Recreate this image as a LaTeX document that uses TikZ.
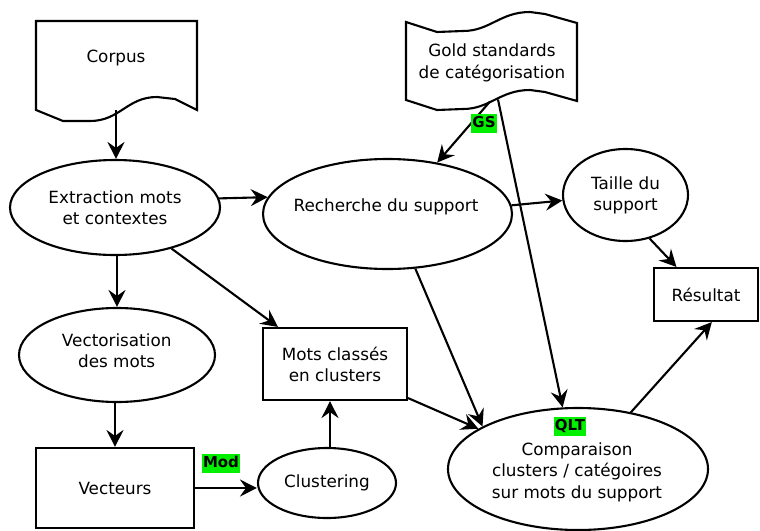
\documentclass[tikz,border=0pt]{standalone}
\usepackage{fontspec}
\setmainfont{DejaVu Sans}
\usetikzlibrary{arrows.meta,shapes.geometric,calc}
\definecolor{tagGreen}{RGB}{0,240,0}
\begin{document}
\begin{tikzpicture}[x=1pt,y=-1pt,
  txt/.style={font=\fontsize{16.8}{21.2}\selectfont, align=center, inner sep=0pt},
  oval/.style={ellipse, draw, line width=2.1pt, fill=white, inner sep=0pt, txt},
  box/.style={rectangle, draw, line width=2.1pt, fill=white, inner sep=0pt, txt},
  doc/.style={draw, line width=2.1pt, fill=white},
  arr/.style={line width=2.1pt, -{Stealth[length=17pt,width=17pt,inset=6pt]}},
  tag/.style={fill=tagGreen, font=\bfseries\fontsize{15}{18}\selectfont,
    inner xsep=1pt, inner ysep=2.5pt, text height=11pt, text depth=3pt}]

\useasboundingbox (0,0) rectangle (760,530);

% document shapes with wavy edges
\draw[doc] (36,21) -- (197,21) -- (197,110) -- (175,99) -- (157,97)
  .. controls (127,97) and (120,121) .. (90,121) -- (63,121) -- (36,110) -- cycle;
\node[txt] (corpus) at (116,58.5) {Corpus};
\coordinate (corpusfoot) at (116,110);

\draw[doc] (406,22) -- (437,32) -- (463,31) .. controls (490,31) and (500,12) .. (530,12)
  -- (545,14) -- (577,23) -- (577,101) -- (545,92) -- (530,90)
  .. controls (500,90) and (490,109) .. (463,109) -- (437,110) -- (406,100) -- cycle;
\node[txt] (gold) at (492,62.8) {Gold standards\\de catégorisation};
\coordinate (gsfoot) at (490,101.5);
\coordinate (qltfoot) at (498,99.5);

% process nodes
\node[oval, minimum width=210, minimum height=95] (ext) at (115,207.5) {Extraction mots\\et contextes};
\node[oval, minimum width=249, minimum height=110] (rech) at (387.5,214) {};
\node[txt] (rechtext) at (386,206.4) {Recherche du support};
\node[oval, minimum width=125, minimum height=92] (taille) at (625.5,195) {Taille du\\support};
\node[box, minimum width=104, minimum height=53] (res) at (706,294.5) {Résultat};
\node[oval, minimum width=196, minimum height=94] (vec) at (117,355) {};
\node[txt] (vectext) at (116.7,351.1) {Vectorisation\\des mots};
\node[box, minimum width=144, minimum height=72] (mots) at (335,364) {Mots classés\\en clusters};
\node[box, minimum width=158, minimum height=80] (vecteurs) at (115,488) {Vecteurs};
\node[oval, minimum width=138, minimum height=70] (clus) at (327,483) {Clustering};
\node[oval, minimum width=260, minimum height=122] (comp) at (578,469) {};
\node[txt] (comptext) at (577,472.3) {Comparaison\\clusters / catégoires\\sur mots du support};

% connectors
\draw[arr] (corpusfoot) -- (corpusfoot |- ext.north);
\draw[arr] (vec.north |- ext.south) -- (vec.north);
\draw[arr] (vecteurs.north |- vec.south) -- (vecteurs.north);
\draw[arr] (vecteurs.east) -- (vecteurs.east -| clus.west);
\draw[arr] ($(clus.north)+(3,0)$) -- ($(mots.south)+(-5,0)$);
\draw[arr] (ext.5) -- (rech.172);
\draw[arr] (ext.-36) -- (mots.147);
\draw[arr] (rech.4) -- (taille.185);
\draw[arr] (taille.-61) -- (res.137);
\draw[arr] (comp.47) -- (res.-78);
\draw[arr] (rech.-63) -- (comp.156);
\draw[arr] (mots.-25) -- (comp.158);
\draw[arr] (gsfoot) -- (rech.46);
\draw[arr] (qltfoot) -- (comp.104);

% connector tags
\node[tag] (gstag) at (484,123.5) {GS};
\node[tag] (modtag) at (221,463) {Mod};
\node[tag] (qlttag) at (570,426.5) {QLT};
\end{tikzpicture}
\end{document}
